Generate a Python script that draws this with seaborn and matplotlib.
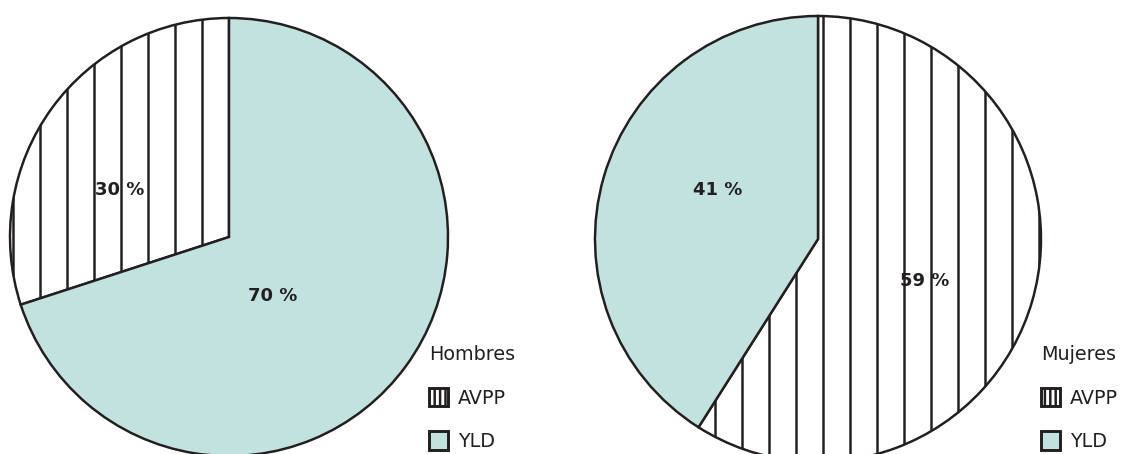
import matplotlib
matplotlib.use("Agg")
import matplotlib.pyplot as plt
import matplotlib.patches as mpatches
import seaborn as sns

sns.set_theme(style="white")
plt.rcParams['font.family'] = ['DejaVu Sans']

# data
categories = ["AVPP", "YLD"]
hombres = [30, 70]
mujeres = [59, 41]
group_titles = ["Hombres", "Mujeres"]

DARK = "#231f20"
TEAL = "#c2e2e0"
DPI = 162
W, H = 1129, 454

plt.rcParams['hatch.linewidth'] = 1.1
plt.rcParams['hatch.color'] = DARK

fig = plt.figure(figsize=(W / DPI, H / DPI), dpi=DPI)
fig.patch.set_facecolor("white")

# pie geometry in pixels: center x, center y (from top), radius
pies = [
    dict(vals=hombres, title=group_titles[0], cx=229, cy=237, r=219, counterclock=True,
         label_pos=[(-0.50, 0.215), (0.20, -0.27)], leg_x=429),
    dict(vals=mujeres, title=group_titles[1], cx=818, cy=239, r=223, counterclock=False,
         label_pos=[(0.48, -0.19), (-0.45, 0.22)], leg_x=1041),
]

for p in pies:
    left = (p["cx"] - p["r"]) / W
    bottom = (H - p["cy"] - p["r"]) / H
    ax = fig.add_axes([left, bottom, 2 * p["r"] / W, 2 * p["r"] / H])
    wedges, texts, autotexts = ax.pie(
        p["vals"],
        colors=["white", TEAL],
        startangle=90,
        counterclock=p["counterclock"],
        autopct=lambda v: f"{v:.0f} %",
        wedgeprops=dict(edgecolor=DARK, linewidth=1.1),
        textprops=dict(fontsize=8, fontweight="bold", color=DARK),
    )
    wedges[0].set_hatch("|")
    for t, pos in zip(autotexts, p["label_pos"]):
        t.set_position(pos)
    ax.set_xlim(-1, 1)
    ax.set_ylim(-1, 1)
    ax.axis("off")

    handles = [
        mpatches.Patch(facecolor="white", edgecolor=DARK, hatch="|||||", linewidth=1.3),
        mpatches.Patch(facecolor=TEAL, edgecolor=DARK, linewidth=1.3),
    ]
    leg = fig.legend(
        handles, categories, title=p["title"],
        loc="upper left",
        bbox_to_anchor=(p["leg_x"] / W, 1 - 345 / H),
        frameon=False, fontsize=8.5, title_fontsize=8.5,
        handlelength=1.0, handleheight=1.1, handletextpad=0.5,
        labelspacing=1.25, alignment="left", borderpad=0, borderaxespad=0,
    )
    for txt in leg.get_texts():
        txt.set_color(DARK)
    leg.get_title().set_color(DARK)

fig.savefig("out.png", dpi=DPI, facecolor="white")
